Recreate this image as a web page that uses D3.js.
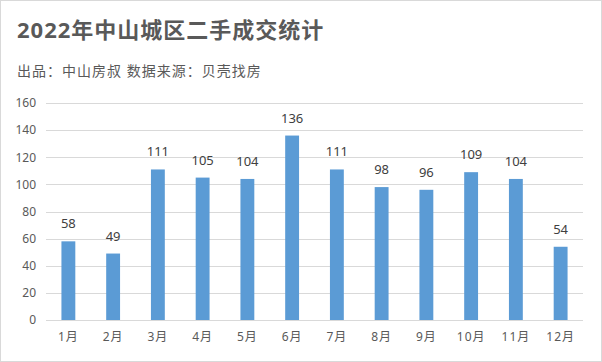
<!DOCTYPE html>
<html>
<head>
<meta charset="utf-8">
<script src="https://cdn.jsdelivr.net/npm/d3@7"></script>
<style>
  body { margin: 0; background: #fff; }
  svg text { font-family: "Noto Sans", "Noto Sans CJK SC", sans-serif; }
</style>
</head>
<body>
<script>
// chart data
var months = ["1月", "2月", "3月", "4月", "5月", "6月", "7月", "8月", "9月", "10月", "11月", "12月"];
var deals = [58, 49, 111, 105, 104, 136, 111, 98, 96, 109, 104, 54];
var yTicks = [0, 20, 40, 60, 80, 100, 120, 140, 160];

var W = 602, H = 362;
var margin = {top: 103, right: 19, bottom: 42, left: 46},
    width = W - margin.left - margin.right,
    height = H - margin.top - margin.bottom;

var svg = d3.select("body").append("svg")
    .attr("width", W)
    .attr("height", H);

// outer frame
svg.append("rect")
    .attr("x", 0.5).attr("y", 0.5)
    .attr("width", W - 1).attr("height", H - 1)
    .attr("fill", "#fff")
    .attr("stroke", "#d9d9d9");

// title + subtitle
svg.append("text")
    .attr("x", 17).attr("y", 38)
    .style("font-size", "22px")
    .style("font-weight", "bold")
    .style("letter-spacing", "1px")
    .attr("fill", "#595959")
    .text("2022年中山城区二手成交统计");

svg.append("text")
    .attr("x", 17).attr("y", 76)
    .style("font-size", "14px")
    .style("letter-spacing", "1px")
    .attr("fill", "#595959")
    .text("出品：中山房叔 数据来源：贝壳找房");

var g = svg.append("g")
    .attr("transform", "translate(" + margin.left + "," + margin.top + ")");

var x = d3.scaleBand()
    .domain(months)
    .range([0, width])
    .paddingInner(0.69)
    .paddingOuter(0.345);

var y = d3.scaleLinear()
    .domain([0, 160])
    .range([height, 0]);

// gridlines
g.selectAll(".grid")
    .data(yTicks)
    .enter().append("line")
    .attr("x1", 0).attr("x2", width)
    .attr("y1", function(d) { return Math.round(y(d)) + 0.5; })
    .attr("y2", function(d) { return Math.round(y(d)) + 0.5; })
    .attr("stroke", "#d9d9d9");

// y axis labels
var yAxis = g.append("g")
    .call(d3.axisLeft(y).tickValues(yTicks).tickSize(0).tickPadding(10));
yAxis.select(".domain").remove();
yAxis.selectAll("text")
    .style("font-size", "12px")
    .style("font-family", "'Noto Sans', sans-serif")
    .attr("fill", "#595959");

// x axis labels
var xAxis = g.append("g")
    .attr("transform", "translate(0," + height + ")")
    .call(d3.axisBottom(x).tickSize(0).tickPadding(12));
xAxis.select(".domain").remove();
xAxis.selectAll("text")
    .style("font-size", "12px")
    .style("letter-spacing", "1px")
    .style("font-family", "'Noto Sans', 'Noto Sans CJK SC', sans-serif")
    .attr("fill", "#595959");

// bars
g.selectAll(".bar")
    .data(deals)
    .enter().append("rect")
    .attr("class", "bar")
    .attr("x", function(d, i) { return x(months[i]); })
    .attr("width", x.bandwidth())
    .attr("y", function(d) { return y(d); })
    .attr("height", function(d) { return height - y(d); })
    .attr("fill", "#5b9bd5");

// value labels
g.selectAll(".val")
    .data(deals)
    .enter().append("text")
    .attr("x", function(d, i) { return x(months[i]) + x.bandwidth() / 2; })
    .attr("y", function(d) { return y(d) - 13; })
    .attr("text-anchor", "middle")
    .style("font-size", "13px")
    .attr("fill", "#404040")
    .text(function(d) { return d; });
</script>
</body>
</html>
